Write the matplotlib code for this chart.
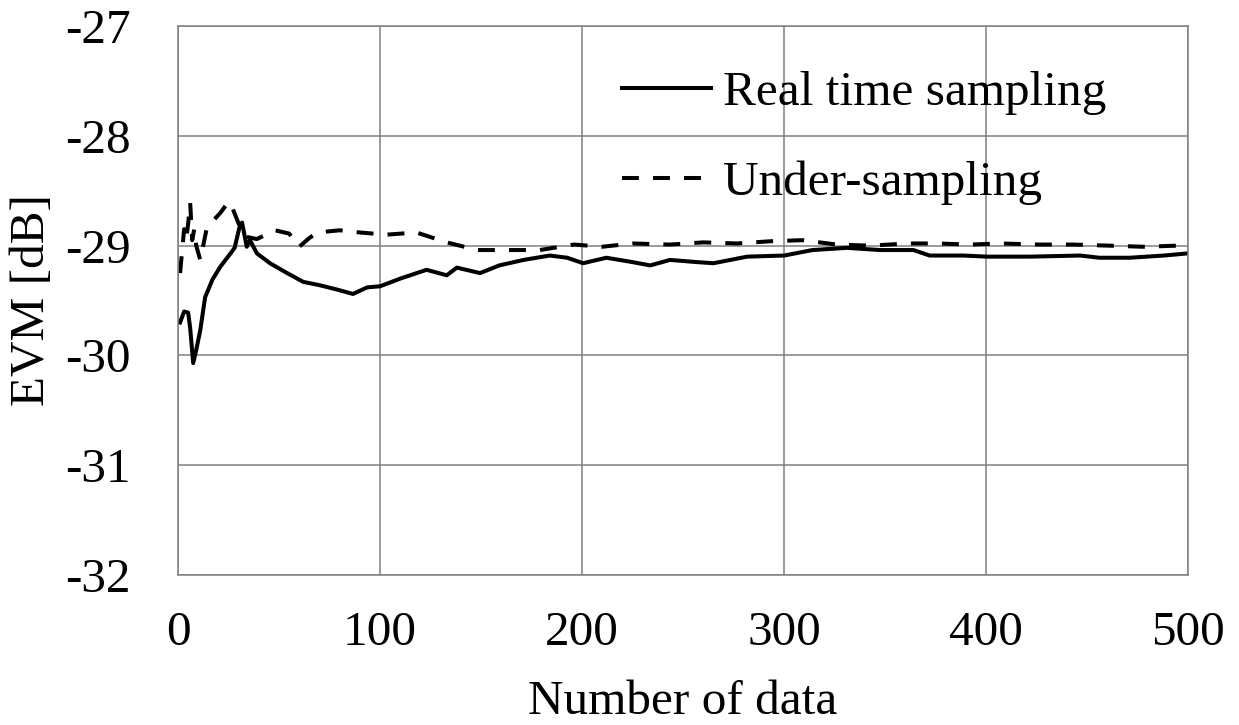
import numpy as np
import matplotlib.pyplot as plt

plt.rcParams["font.family"] = ["Liberation Serif", "DejaVu Serif"]
plt.rcParams["axes.unicode_minus"] = False

# EVM vs number of averaged data, real-time sampling
real_n = [1, 3, 5, 6, 7.5, 9, 11, 13.4, 17, 21, 26, 28, 30.7, 31.7, 34, 35.6,
          39, 45.5, 54, 62, 70, 78.7, 86.6, 93.6, 100, 110, 123, 133, 138,
          149.5, 159, 171, 184, 192.6, 200.5, 212, 225, 233.7, 243.5, 257,
          265, 281.7, 300, 314, 331, 347.5, 364, 372, 388.6, 400.5, 421.8,
          446.5, 456, 471, 488, 500]
real_evm = [-29.70, -29.60, -29.61, -29.75, -30.07, -29.95, -29.77, -29.47,
            -29.31, -29.19, -29.07, -29.02, -28.81, -28.79, -29.01, -28.95,
            -29.07, -29.16, -29.25, -29.33, -29.36, -29.40, -29.44, -29.38,
            -29.37, -29.30, -29.22, -29.27, -29.20, -29.25, -29.18, -29.13,
            -29.09, -29.11, -29.16, -29.11, -29.15, -29.18, -29.13, -29.15,
            -29.16, -29.10, -29.09, -29.04, -29.02, -29.04, -29.04, -29.09,
            -29.09, -29.10, -29.10, -29.09, -29.11, -29.11, -29.09, -29.07]

# same measurement with under-sampling
under_n = [1, 2, 3, 4, 5, 6, 7, 8, 9, 11, 14, 17, 21, 25, 27, 30, 34, 39, 48,
           55, 60, 65, 69, 80, 90, 103, 118, 133, 148, 163, 179, 196, 210,
           225, 243.5, 260, 276.7, 293, 309, 326, 342.6, 361, 375.7, 392,
           407, 426.7, 443, 461, 477.7, 494.6, 500]
under_evm = [-29.25, -29.05, -28.85, -28.95, -28.80, -28.61, -28.95, -28.85,
             -29.00, -29.13, -28.86, -28.78, -28.70, -28.60, -28.66, -28.80,
             -28.92, -28.94, -28.86, -28.89, -29.01, -28.93, -28.88, -28.86,
             -28.88, -28.90, -28.88, -28.97, -29.04, -29.04, -29.04, -28.99,
             -29.01, -28.98, -28.99, -28.97, -28.98, -28.96, -28.95, -28.99,
             -29.00, -28.98, -28.98, -28.99, -28.98, -28.99, -28.99, -29.00,
             -29.01, -29.00, -29.00]

FS = 35.5

fig = plt.figure(figsize=(12.39, 7.25), dpi=100)
ax = fig.add_axes([0.1437, 0.2069, 0.8153, 0.7571])

ax.plot(real_n, real_evm, color="black", lw=2.9, label="Real time sampling")
ax.plot(under_n, under_evm, color="black", lw=2.9, dashes=(4.2, 3.5),
        label="Under-sampling")

ax.set_xlim(0, 500)
ax.set_ylim(-32, -27)
ax.set_xticks(np.arange(0, 501, 100))
ax.set_yticks(np.arange(-32, -26, 1))
ax.grid(True, color="#808080", lw=1.1)
for sp in ax.spines.values():
    sp.set_color("#808080")
    sp.set_linewidth(1.1)
ax.tick_params(length=0, labelsize=FS)
ax.tick_params(axis="x", pad=26)
ax.tick_params(axis="y", pad=34)

ax.set_xlabel("Number of data", fontsize=FS, labelpad=18)
ax.set_ylabel("EVM [dB]", fontsize=FS, labelpad=8)

ax.legend(loc="upper left", bbox_to_anchor=(0.42, 0.955), frameon=False,
          fontsize=FS, handlelength=1.8, handletextpad=0.25,
          labelspacing=0.93, borderaxespad=0)

fig.savefig("out.png", dpi=100)
